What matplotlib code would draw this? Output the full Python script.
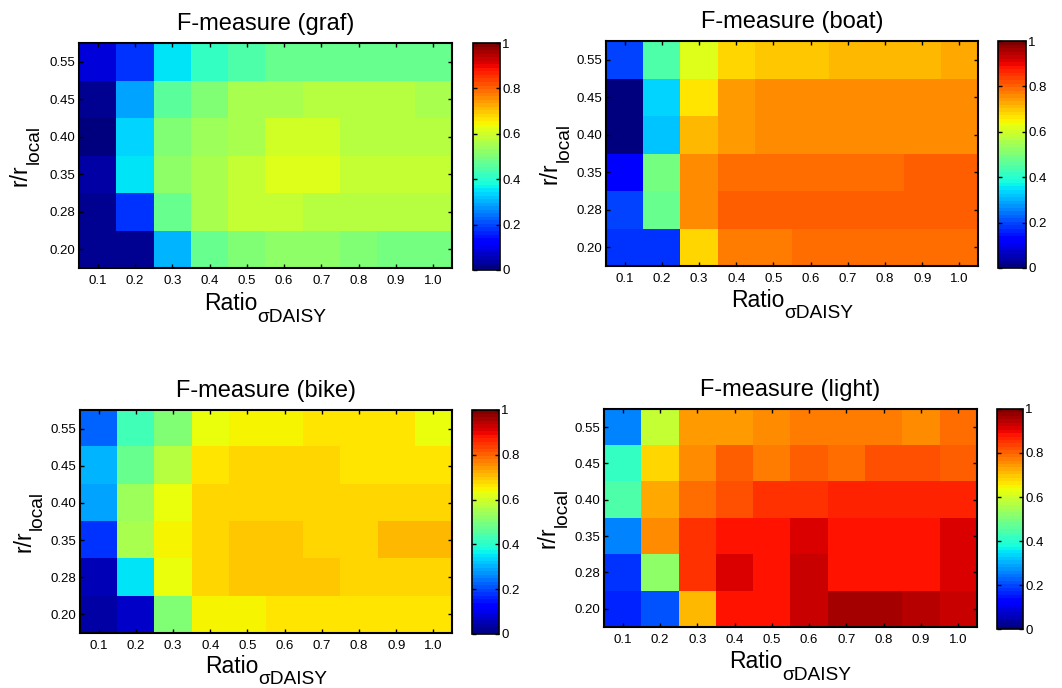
"""
F-measure heatmaps (graf, boat, bike, light) vs Ratio sigma DAISY and r/r_local.
"""

import matplotlib
matplotlib.use('Agg')
import matplotlib.pyplot as plt
import numpy as np

plt.rcParams['font.family'] = ['Liberation Sans', 'DejaVu Sans']

# eixos
ratio_labels = ['0.1', '0.2', '0.3', '0.4', '0.5', '0.6', '0.7', '0.8', '0.9', '1.0']
r_labels = ['0.20', '0.28', '0.35', '0.40', '0.45', '0.55']  # de baixo para cima

# valores (linhas de baixo para cima: 0.20, 0.28, 0.35, 0.40, 0.45, 0.55)
f_graf = [
    [0.03, 0.03, 0.31, 0.48, 0.50, 0.52, 0.52, 0.50, 0.49, 0.49],
    [0.03, 0.185, 0.48, 0.56, 0.585, 0.585, 0.575, 0.575, 0.575, 0.575],
    [0.04, 0.345, 0.52, 0.56, 0.59, 0.61, 0.61, 0.59, 0.59, 0.59],
    [0.015, 0.33, 0.50, 0.545, 0.56, 0.595, 0.595, 0.575, 0.575, 0.575],
    [0.03, 0.295, 0.455, 0.50, 0.55, 0.555, 0.575, 0.575, 0.575, 0.56],
    [0.09, 0.185, 0.345, 0.41, 0.445, 0.47, 0.47, 0.47, 0.48, 0.48],
]
f_boat = [
    [0.185, 0.185, 0.675, 0.77, 0.77, 0.79, 0.79, 0.79, 0.79, 0.79],
    [0.20, 0.48, 0.76, 0.80, 0.80, 0.80, 0.80, 0.80, 0.80, 0.80],
    [0.12, 0.49, 0.75, 0.785, 0.785, 0.785, 0.785, 0.785, 0.80, 0.80],
    [0.0, 0.32, 0.71, 0.745, 0.76, 0.76, 0.76, 0.76, 0.76, 0.76],
    [0.0, 0.34, 0.66, 0.74, 0.75, 0.75, 0.76, 0.76, 0.76, 0.76],
    [0.20, 0.44, 0.61, 0.675, 0.69, 0.69, 0.71, 0.71, 0.71, 0.73],
]
f_bike = [
    [0.04, 0.07, 0.51, 0.65, 0.655, 0.67, 0.67, 0.67, 0.67, 0.67],
    [0.06, 0.355, 0.63, 0.685, 0.70, 0.70, 0.70, 0.685, 0.685, 0.685],
    [0.175, 0.55, 0.655, 0.685, 0.70, 0.70, 0.68, 0.68, 0.705, 0.705],
    [0.29, 0.54, 0.625, 0.675, 0.68, 0.68, 0.68, 0.68, 0.68, 0.68],
    [0.31, 0.48, 0.57, 0.66, 0.685, 0.685, 0.685, 0.67, 0.67, 0.67],
    [0.23, 0.43, 0.51, 0.63, 0.65, 0.65, 0.66, 0.66, 0.66, 0.64],
]
f_light = [
    [0.165, 0.21, 0.705, 0.875, 0.875, 0.925, 0.955, 0.955, 0.94, 0.925],
    [0.185, 0.52, 0.855, 0.91, 0.89, 0.925, 0.89, 0.89, 0.89, 0.91],
    [0.26, 0.755, 0.855, 0.875, 0.89, 0.91, 0.89, 0.89, 0.89, 0.91],
    [0.44, 0.72, 0.795, 0.82, 0.845, 0.845, 0.86, 0.86, 0.86, 0.86],
    [0.42, 0.675, 0.765, 0.81, 0.77, 0.805, 0.79, 0.825, 0.825, 0.805],
    [0.25, 0.58, 0.74, 0.74, 0.75, 0.77, 0.77, 0.77, 0.76, 0.79],
]

W, H = 1062, 688
cmap = plt.get_cmap('jet', 64)

fig = plt.figure(figsize=(W / 100, H / 100), dpi=100)
renderer = fig.canvas.get_renderer()


def px_box(x0, y0, x1, y1):
    return [x0 / W, 1 - y1 / H, (x1 - x0) / W, (y1 - y0) / H]


def largura(texto, tamanho):
    t = fig.text(0, 0, texto, fontsize=tamanho)
    w = t.get_window_extent(renderer).width
    t.remove()
    return w


def rotulo(principal, sub, centro, base, vertical=False, tam=16.5, tam_sub=13.8, queda=11.5):
    # rótulo com subscrito maior que o do mathtext; coordenadas em pixels (origem no topo)
    w1 = largura(principal, tam)
    w2 = largura(sub, tam_sub)
    inicio = centro - (w1 + w2) / 2
    if not vertical:
        fig.text(inicio / W, 1 - base / H, principal, fontsize=tam,
                 ha='left', va='baseline')
        fig.text((inicio + w1) / W, 1 - (base + queda) / H, sub, fontsize=tam_sub,
                 ha='left', va='baseline')
    else:
        fig.text(base / W, 1 - (centro + (w1 + w2) / 2) / H, principal, fontsize=tam,
                 ha='left', va='baseline', rotation=90, rotation_mode='anchor')
        fig.text((base + queda) / W, 1 - (centro + (w1 + w2) / 2 - w1) / H, sub,
                 fontsize=tam_sub, ha='left', va='baseline', rotation=90,
                 rotation_mode='anchor')


def heatmap(dados, nome, ax_box, cb_box, base_x, base_y):
    ax = fig.add_axes(px_box(*ax_box))
    im = ax.imshow(np.array(dados), cmap=cmap, vmin=0, vmax=1,
                   origin='lower', aspect='auto', interpolation='nearest')
    ax.set_xticks(np.arange(len(ratio_labels)))
    ax.set_xticklabels(ratio_labels)
    ax.set_yticks(np.arange(len(r_labels)))
    ax.set_yticklabels(r_labels)
    ax.tick_params(direction='in', length=3, width=1, top=True, right=True,
                   labelsize=9.5)
    ax.tick_params(axis='x', pad=5)
    ax.tick_params(axis='y', pad=3)
    for s in ax.spines.values():
        s.set_linewidth(1.5)
    ax.set_title(f'F-measure ({nome})', fontsize=17, pad=9.5)

    x0, y0, x1, y1 = ax_box
    rotulo('Ratio', '\u03c3DAISY', (x0 + x1) / 2, base_x)
    rotulo('r/r', 'local', (y0 + y1) / 2, base_y, vertical=True)

    cax = fig.add_axes(px_box(*cb_box))
    cb = fig.colorbar(im, cax=cax)
    cb.set_ticks([0, 0.2, 0.4, 0.6, 0.8, 1])
    cb.set_ticklabels(['0', '0.2', '0.4', '0.6', '0.8', '1'])
    cax.tick_params(direction='in', length=3, width=1, left=True, right=True,
                    labelsize=9.5, pad=1.5)
    cb.outline.set_linewidth(1.2)
    return ax


heatmap(f_graf, 'graf', (79, 43, 452, 268), (473, 43, 500, 270), 310, 27)
heatmap(f_boat, 'boat', (606, 41, 978, 266), (998, 41, 1026, 268), 307, 557)
heatmap(f_bike, 'bike', (80, 410, 452, 633), (472, 410, 499, 634), 673, 30)
heatmap(f_light, 'light', (604, 409, 977, 627), (997, 409, 1023, 629), 668, 555)

plt.savefig('out.png', dpi=100)
print('ok')
